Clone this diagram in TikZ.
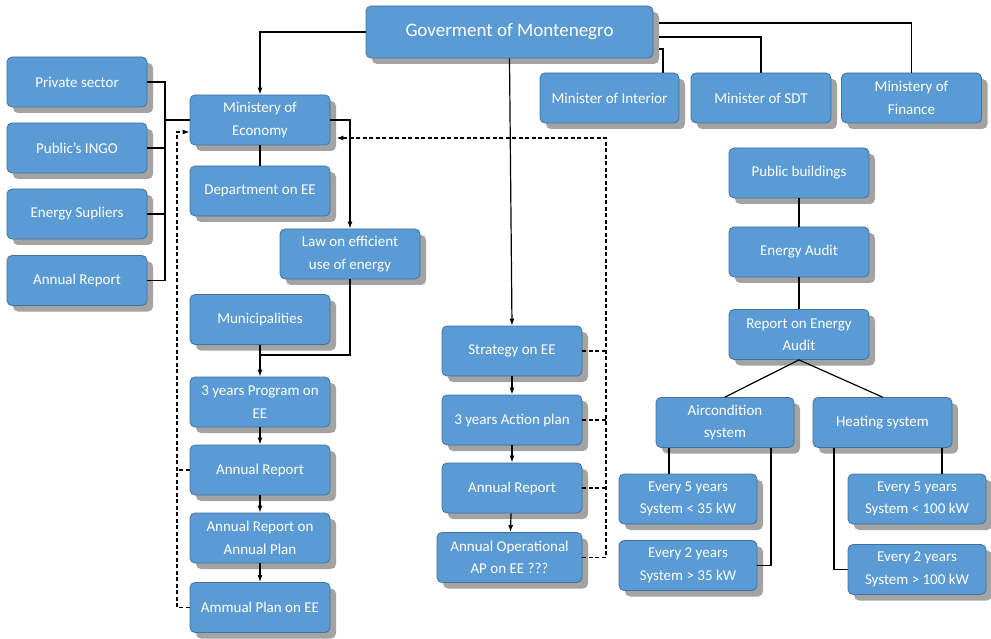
\documentclass[tikz,border=0pt]{standalone}
\usepackage{fontspec}
\setmainfont{Carlito}
\usetikzlibrary{positioning,shadows,arrows.meta}

\definecolor{boxblue}{HTML}{5B9BD5}
\definecolor{boxline}{HTML}{41719C}
\definecolor{shadowgray}{HTML}{A3A3A3}

\tikzset{
  unit/.style={rectangle, rounded corners=5pt, draw=boxline, line width=0.8pt,
    fill=boxblue, text=white, minimum width=140pt, minimum height=50pt,
    inner sep=2pt, align=center, font=\fontsize{15}{22.5}\selectfont,
    drop shadow={shadow xshift=6pt, shadow yshift=-6pt, fill=shadowgray, opacity=1}},
  link/.style={line width=1.2pt},
  feedback/.style={line width=1.2pt, dash pattern=on 4pt off 2.5pt},
}

\begin{document}
\begin{tikzpicture}[x=1pt, y=-1pt, node distance=68pt, >={Latex[length=7pt,width=5pt]}]
    \useasboundingbox (0,0) rectangle (991,639);

    % Government and ministers (top row)
    \node (gov) [unit, minimum width=287pt, minimum height=52pt, font=\fontsize{19}{23}\selectfont] at (509.5,32) {Goverment of Montenegro};
    \node (interior) [unit, minimum width=139pt] at (609.5,98) {Minister of Interior};
    \node (sdt) [unit, right of=interior, node distance=151.5pt] {Minister of SDT};
    \node (finance) [unit, right of=sdt, node distance=150.5pt] {Ministery of\\Finance};

    % Stakeholders (left column)
    \node (private) [unit] at (77,82) {Private sector};
    \node (ingo) [unit, below of=private, node distance=66pt] {Public's INGO};
    \node (supp) [unit, below of=ingo, node distance=66pt] {Energy Supliers};
    \node (report1) [unit, below of=supp, node distance=66.5pt] {Annual Report};

    % Ministry of Economy branch
    \node (econ) [unit] at (260,120) {Ministery of\\Economy};
    \node (dept) [unit, below of=econ, node distance=71pt] {Department on EE};
    \node (law) [unit] at (350,254) {Law on efficient\\use of energy};
    \node (muni) [unit] at (260,319.5) {Municipalities};
    \node (prog) [unit, below of=muni, node distance=82.5pt] {3 years Program on\\EE};
    \node (annrep) [unit, below of=prog] {Annual Report};
    \node (arap) [unit, below of=annrep] {Annual Report on\\Annual Plan};
    \node (plan) [unit, below of=arap, node distance=69.5pt] {Ammual Plan on EE};

    % Strategy branch (middle column)
    \node (strat) [unit] at (512,351) {Strategy on EE};
    \node (action) [unit, below of=strat, node distance=69pt] {3 years Action plan};
    \node (annrep2) [unit, below of=action] {Annual Report};
    \node (aop) [unit, minimum width=145pt] at (509.5,557.5) {Annual Operational\\AP on EE ???};

    % Public buildings branch (right column)
    \node (pubb) [unit] at (799,173) {Public buildings};
    \node (audit) [unit, below of=pubb, node distance=79pt] {Energy Audit};
    \node (raudit) [unit, below of=audit, node distance=82.5pt] {Report on Energy\\Audit};
    \node (aircon) [unit, minimum width=138pt] at (725,422.5) {Aircondition\\system};
    \node (heat) [unit, minimum width=139pt] at (882.5,422.5) {Heating system};
    \node (e5a) [unit, minimum width=138pt] at (688,499) {Every 5 years\\System < 35 kW};
    \node (e2a) [unit, minimum width=138pt, below of=e5a, node distance=66.5pt] {Every 2 years\\System > 35 kW};
    \node (e5h) [unit, minimum width=138pt] at (917,499) {Every 5 years\\System < 100 kW};
    \node (e2h) [unit, minimum width=138pt, below of=e5h, node distance=70.5pt] {Every 2 years\\System > 100 kW};

    % Helper points
    \coordinate (bus) at (165,120);
    \coordinate (join) at (260,355);
    \coordinate (fbl) at (177,132);
    \coordinate (fbr) at (606,138);
    \coordinate (econs) at ([xshift=6pt]econ.east);
    \coordinate (intr) at ([xshift=53.5pt]interior.north);
    \coordinate (acl) at ([xshift=-56pt]aircon.south);
    \coordinate (acr) at ([xshift=46pt]aircon.south);
    \coordinate (htl) at ([xshift=-48.5pt]heat.south);
    \coordinate (htr) at ([xshift=59.5pt]heat.south);

    % Connectors from the government
    \draw [link, ->] (gov.west) -| (econ.north);
    \draw [link, ->] (gov.south) -- (strat.north);
    \draw [link] ([xshift=6pt, yshift=9pt]gov.east) -| (finance.north);
    \draw [link] ([xshift=6pt, yshift=-5pt]gov.east) -| (sdt.north);
    \draw [link] ([xshift=6pt, yshift=-17pt]gov.east) -| (intr);

    % Stakeholders to the ministry
    \foreach \n in {private, ingo, supp, report1}
        \draw [link] (\n.east) -| (bus);
    \draw [link] (bus) -- (econ.west);

    % Ministry of Economy branch
    \draw [link] (econ) -- (dept);
    \draw [link, ->] (econ.east) -| (law.north);
    \draw [link] (law.south) |- (join);
    \draw [link, ->] (muni) -- (prog);
    \draw [link, ->] (prog) -- (annrep);
    \draw [link, ->] (annrep) -- (arap);
    \draw [link, ->] (arap) -- (plan);

    % Strategy branch
    \draw [link, ->] (strat) -- (action);
    \draw [link, ->] (action) -- (annrep2);
    \draw [link, ->] (annrep2) -- (aop);

    % Feedback loops (dashed)
    \draw [feedback] (annrep.west) -- (annrep.west -| fbl);
    \draw [feedback, ->] (plan.west) -| (fbl) -- (fbl -| econ.west);
    \foreach \n in {strat, action, annrep2}
        \draw [feedback] (\n.east) -- (\n.east -| fbr);
    \draw [feedback, ->] (aop.east) -| (fbr) -- (fbr -| econs);

    % Public buildings branch
    \draw [link] (pubb) -- (audit);
    \draw [link] (audit) -- (raudit);
    \draw [link] (raudit.south) -- (aircon.north);
    \draw [link] (raudit.south) -- (heat.north);
    \draw [link] (acl) -- (acl |- e5a.north);
    \draw [link] (acr) |- (e2a.east);
    \draw [link] (htl) |- (e2h.west);
    \draw [link] (htr) -- (htr |- e5h.north);
\end{tikzpicture}
\end{document}
